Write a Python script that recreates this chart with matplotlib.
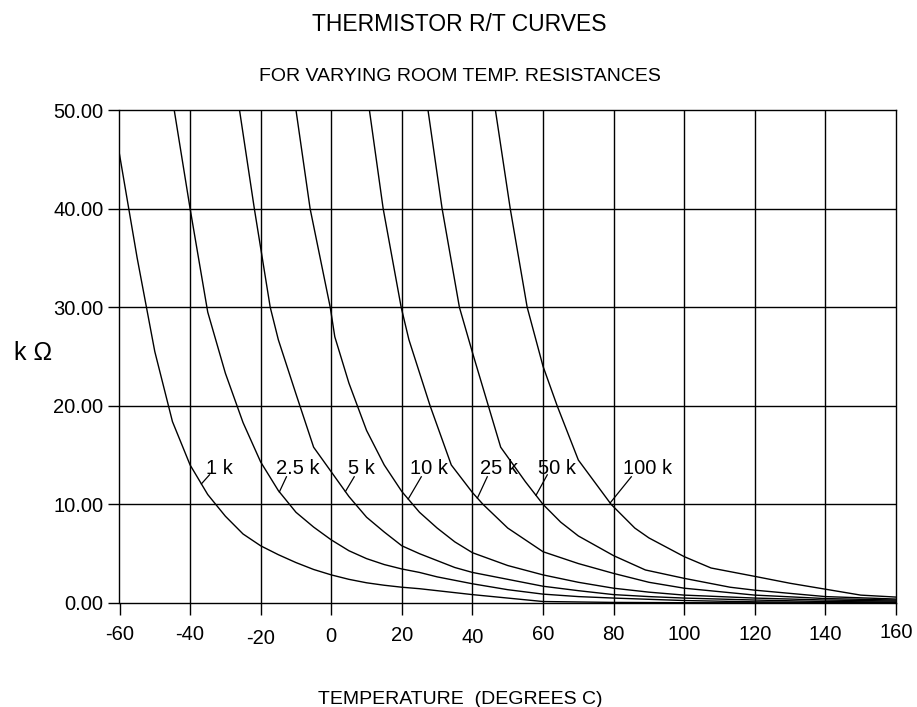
import numpy as np
import matplotlib
matplotlib.use("Agg")
import matplotlib.pyplot as plt

plt.rcParams['font.family'] = ['Liberation Sans', 'DejaVu Sans']

# temperature (deg C) / resistance (k ohm), one table per curve
t_1k = [-60, -55, -50, -45, -40, -35, -30, -25, -20, -15, -10, -5, 0, 5, 10, 15, 20, 25, 30, 40, 50, 60, 80, 100, 120, 140, 160]
r_1k = [45.5, 35.0, 25.5, 18.4, 14.0, 11.0, 8.8, 7.0, 5.8, 4.9, 4.1, 3.4, 2.85, 2.4, 2.05, 1.8, 1.6, 1.45, 1.25, 0.85, 0.5, 0.15, 0.06, 0.03, 0.02, 0.01, 0.01]

t_2k5 = [-44.5, -40, -35, -30, -25, -20, -15, -10, -5, 0, 5, 10, 15, 20, 25, 30, 40, 50, 60, 70, 80, 100, 120, 140, 160]
r_2k5 = [50, 40, 29.5, 23.3, 18.3, 14.3, 11.4, 9.2, 7.7, 6.4, 5.3, 4.5, 3.9, 3.45, 3.1, 2.65, 1.95, 1.35, 0.9, 0.65, 0.5, 0.25, 0.12, 0.06, 0.04]

t_5k = [-26, -21.8, -17.3, -15, -10, -5, 0, 5, 10, 15, 20, 25, 30, 35, 40, 50, 60, 70, 80, 90, 100, 120, 140, 160]
r_5k = [50, 40, 30, 26.7, 21.2, 15.8, 13.3, 10.8, 8.7, 7.2, 5.8, 5.0, 4.3, 3.6, 3.1, 2.4, 1.7, 1.25, 0.85, 0.65, 0.5, 0.3, 0.15, 0.1]

t_10k = [-10, -6, -0.3, 1, 5, 10, 15, 20, 25, 30, 35, 40, 50, 60, 70, 80, 90, 100, 120, 140, 160]
r_10k = [50, 40, 30, 27, 22.3, 17.5, 14.0, 11.3, 9.2, 7.6, 6.2, 5.1, 3.8, 2.85, 2.1, 1.5, 1.1, 0.8, 0.5, 0.3, 0.2]

t_25k = [10.8, 14.7, 19.8, 22, 28, 34, 40, 43, 50, 60, 70, 80, 90, 100, 120, 140, 160]
r_25k = [50, 40, 30, 26.7, 20, 14, 11.2, 10, 7.6, 5.2, 4.0, 3.0, 2.1, 1.5, 0.8, 0.45, 0.3]

t_50k = [27.4, 31.4, 36.3, 40, 44.5, 48, 55, 60, 65, 70, 80, 89, 100, 113, 120, 140, 160]
r_50k = [50, 40, 30, 25.4, 20, 15.8, 12.3, 10, 8.2, 6.8, 4.8, 3.35, 2.5, 1.6, 1.3, 0.65, 0.4]

t_100k = [46.5, 50.7, 55.5, 60, 64, 70, 79.3, 86, 90, 100, 107.6, 120, 130, 140, 150, 160]
r_100k = [50, 40, 30, 24, 20, 14.5, 10, 7.6, 6.6, 4.7, 3.55, 2.7, 2.0, 1.4, 0.8, 0.6]

curves = [(t_1k, r_1k), (t_2k5, r_2k5), (t_5k, r_5k), (t_10k, r_10k),
          (t_25k, r_25k), (t_50k, r_50k), (t_100k, r_100k)]
labels = ['1 k', '2.5 k', '5 k', '10 k', '25 k', '50 k', '100 k']

# label placement: leader starts on curve at lead_t, ends at (lead_t2, lead_r2); text at (text_t, text_r)
lead_t = [-36.8, -14.7, 4.0, 21.8, 41.4, 58.0, 79.0]
lead_t2 = [-34.5, -12.7, 6.5, 25.5, 44.2, 61.2, 85.0]
lead_r2 = [13.0, 12.8, 12.8, 12.8, 12.8, 13.0, 12.8]
text_t = [-35.4, -15.6, 4.8, 22.4, 42.0, 58.6, 82.7]
text_r = 13.6

xticks = list(range(-60, 161, 20))
yticks = [0, 10, 20, 30, 40, 50]
# small vertical jitter of the x tick labels in the original (pixels)
xtick_shift = [0, 0, 4, 2, 1, 3, 0, 0, 0, 0, 0, -2]

fig = plt.figure(figsize=(9.17, 7.07), dpi=100)
ax = fig.add_axes([119.5 / 917, 1 - 603 / 707, (896 - 119.5) / 917, (603 - 110) / 707])

for t, r in curves:
    ax.plot(t, r, color='black', lw=1.0, zorder=3)

for i, lab in enumerate(labels):
    t, r = curves[i]
    r0 = np.interp(lead_t[i], t, r)
    ax.plot([lead_t[i], lead_t2[i]], [r0, lead_r2[i]], color='black', lw=0.9, zorder=3)
    ax.text(text_t[i], text_r, lab, fontsize=14.5, ha='left', va='center', zorder=4)

ax.set_xlim(-60, 160)
ax.set_ylim(0, 50)
ax.set_xticks(xticks)
ax.set_xticklabels([str(v) for v in xticks])
ax.set_yticks(yticks)
ax.set_yticklabels(['%.2f' % v for v in yticks])
ax.grid(True, color='black', lw=1.0, zorder=1)
ax.set_axisbelow(True)
for s in ax.spines.values():
    s.set_linewidth(1.0)
    s.set_color('black')

# gridlines at the frame edges would double the spines
xg = ax.get_xgridlines()
xg[0].set_visible(False)
xg[-1].set_visible(False)
yg = ax.get_ygridlines()
yg[0].set_visible(False)
yg[-1].set_visible(False)

ax.tick_params(axis='x', direction='out', length=8.6, width=1.0, pad=7.0, labelsize=14.5)
ax.tick_params(axis='y', direction='out', length=8.0, width=1.0, pad=3.6, labelsize=14.5)
for tk, dy in zip(ax.xaxis.get_major_ticks(), xtick_shift):
    tk.set_pad(7.0 + dy * 0.72)

ax.set_ylabel('k \u03a9', rotation=0, fontsize=18, ha='center', va='center')
ax.yaxis.set_label_coords(-0.111, 0.507)
ax.set_xlabel('TEMPERATURE  (DEGREES C)', fontsize=14, va='baseline')
ax.xaxis.set_label_coords((460 - 119.5) / 776.5, -0.205)

fig.text(0.5005, 1 - 31 / 707, 'THERMISTOR R/T CURVES', fontsize=16.5, ha='center', va='baseline')
fig.text(0.5016, 1 - 81 / 707, 'FOR VARYING ROOM TEMP. RESISTANCES', fontsize=14, ha='center', va='baseline')

fig.savefig('out.png', dpi=100)
